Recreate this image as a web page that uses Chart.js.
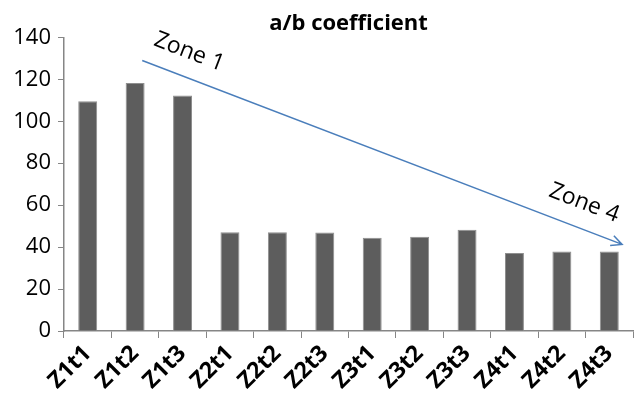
<!DOCTYPE html>
<html>
<head>
<meta charset="utf-8">
<script src="https://cdn.jsdelivr.net/npm/chart.js@4/dist/chart.umd.min.js"></script>
<style>
  html, body { margin: 0; padding: 0; background: #fff; }
  #wrap { width: 638px; height: 398px; }
</style>
</head>
<body>
<div id="wrap"><canvas id="abChart"></canvas></div>
<script>
// values
const categories = ["Z1t1", "Z1t2", "Z1t3", "Z2t1", "Z2t2", "Z2t3",
                    "Z3t1", "Z3t2", "Z3t3", "Z4t1", "Z4t2", "Z4t3"];
const abValues = [109.5, 118.3, 112.3, 47.1, 47.1, 47.0,
                  44.5, 45.0, 48.3, 37.2, 37.9, 37.9];
const yTicks = [0, 20, 40, 60, 80, 100, 120, 140];

// trend arrow, in (category index, value) units
const trendStart = [1.15, 129];
const trendEnd = [11.27, 41.3];
const zoneLabels = [
  { text: "Zone 1", at: [2.14, 133] },
  { text: "Zone 4", at: [10.47, 61] }
];

const FONT = "'Open Sans', 'Liberation Sans', sans-serif";

const trendArrow = {
  id: "trendArrow",
  afterDatasetsDraw(chart) {
    const ctx = chart.ctx;
    const xs = chart.scales.x, ys = chart.scales.y;
    const x1 = xs.getPixelForValue(trendStart[0]), y1 = ys.getPixelForValue(trendStart[1]);
    const x2 = xs.getPixelForValue(trendEnd[0]), y2 = ys.getPixelForValue(trendEnd[1]);
    const ang = Math.atan2(y2 - y1, x2 - x1);
    ctx.save();
    ctx.strokeStyle = "#4a7ebb";
    ctx.lineWidth = 1.5;
    ctx.beginPath();
    ctx.moveTo(x1, y1);
    ctx.lineTo(x2, y2);
    // open arrow head
    const head = 12, spread = 0.45;
    ctx.moveTo(x2 - head * Math.cos(ang - spread), y2 - head * Math.sin(ang - spread));
    ctx.lineTo(x2, y2);
    ctx.lineTo(x2 - head * Math.cos(ang + spread), y2 - head * Math.sin(ang + spread));
    ctx.stroke();

    ctx.fillStyle = "#000";
    ctx.font = "23px " + FONT;
    ctx.textAlign = "center";
    ctx.textBaseline = "middle";
    zoneLabels.forEach(z => {
      ctx.save();
      ctx.translate(xs.getPixelForValue(z.at[0]), ys.getPixelForValue(z.at[1]));
      ctx.rotate(ang);
      ctx.fillText(z.text, 0, 0);
      ctx.restore();
    });
    ctx.restore();
  }
};

new Chart(document.getElementById("abChart"), {
  type: "bar",
  data: {
    labels: categories,
    datasets: [{
      label: "a/b coefficient",
      data: abValues,
      backgroundColor: "#5d5d5d",
      borderColor: "#8f8f8f",
      borderWidth: 1,
      barPercentage: 0.8,
      categoryPercentage: 0.5
    }]
  },
  options: {
    responsive: true,
    maintainAspectRatio: false,
    animation: false,
    layout: { padding: { left: 0, right: 5, top: 0, bottom: 0 } },
    plugins: {
      legend: { display: false },
      tooltip: { enabled: false },
      title: {
        display: true,
        text: "a/b coefficient",
        fullSize: false,
        color: "#000",
        font: { family: FONT, size: 22, weight: "bold" },
        padding: { top: 11, bottom: 0 }
      }
    },
    scales: {
      x: {
        grid: { display: true, drawOnChartArea: false, tickLength: 7, color: "#868686" },
        border: { color: "#868686", width: 1.5 },
        ticks: {
          color: "#000",
          minRotation: 45,
          maxRotation: 45,
          padding: 2,
          font: { family: FONT, size: 23, weight: "bold" }
        },
        afterFit(scale) { scale.height = 67; }
      },
      y: {
        min: 0,
        max: 140,
        afterBuildTicks(scale) { scale.ticks = yTicks.map(v => ({ value: v })); },
        grid: { display: true, drawOnChartArea: false, tickLength: 6, color: "#868686" },
        border: { color: "#868686", width: 1.5 },
        ticks: {
          color: "#000",
          padding: 7,
          font: { family: FONT, size: 22 }
        },
        afterFit(scale) { scale.width = 64; }
      }
    }
  },
  plugins: [trendArrow]
});
</script>
</body>
</html>
